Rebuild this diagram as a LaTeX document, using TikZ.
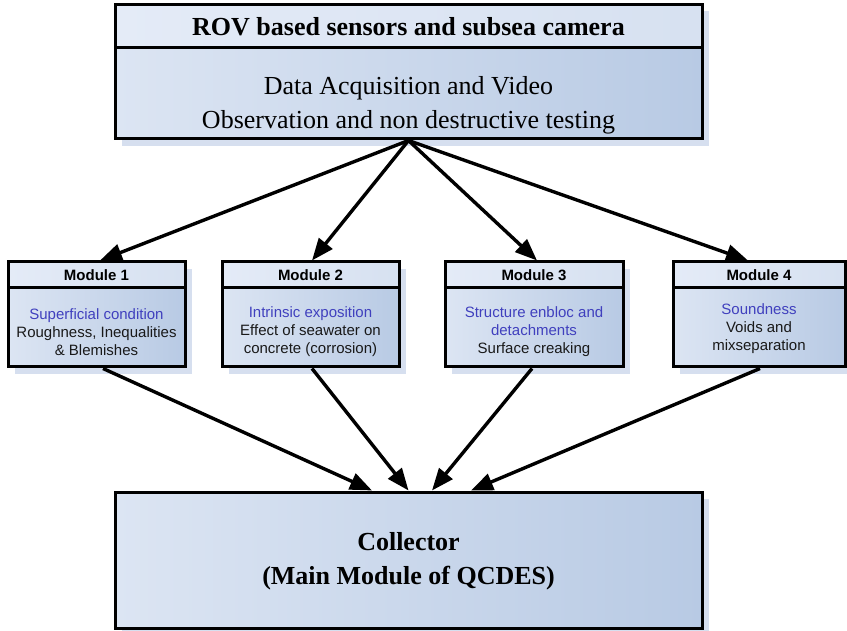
\documentclass[tikz,border=0pt]{standalone}
\usepackage{fontspec}
\setmainfont{Liberation Serif}
\newfontfamily\arialf{Liberation Sans}
\usetikzlibrary{arrows.meta,shadows}
\definecolor{boxlight}{RGB}{220,229,243}
\definecolor{boxdark}{RGB}{184,202,228}
\definecolor{hdrlight}{RGB}{228,235,247}
\definecolor{shadowc}{RGB}{214,223,239}
\definecolor{bluetxt}{RGB}{64,64,190}
\begin{document}
\begin{tikzpicture}[x=1pt,y=-1pt,
  shd/.style={drop shadow={shadow xshift=7pt,shadow yshift=-7pt,fill=shadowc,opacity=1}},
  box/.style={shd,draw=black,line width=3pt,rectangle,inner sep=0pt,left color=boxlight,right color=boxdark},
  hdr/.style={box,left color=hdrlight,right color=boxlight!85!boxdark},
  bigtxt/.style={font=\fontsize{26}{34}\selectfont,align=center,inner sep=0pt},
  bigbold/.style={font=\bfseries\fontsize{26}{34}\selectfont,align=center,inner sep=0pt},
  modtxt/.style={font=\arialf\fontsize{15}{18}\selectfont,align=center,inner sep=0pt,text=black!90},
  modhdr/.style={hdr,font=\arialf\bfseries\fontsize{15}{18}\selectfont,minimum height=26pt},
  modbody/.style={box,minimum height=79pt},
  arr/.style={line width=3.4pt,-{Triangle[length=22pt,width=17pt]}}]
\fill[white] (0,0) rectangle (847,631);
\useasboundingbox (0,0) rectangle (847,631);

% top box
\node[hdr,minimum width=587pt,minimum height=44pt,bigbold] (top) at (408.5,26.5) {ROV based sensors and subsea camera};
\node[box,minimum width=587pt,minimum height=91pt] (topb) at (408.5,93.5) {};
\node[bigtxt] (topt) at (408.5,105) {Data Acquisition and Video\\Observation and non destructive testing};

% modules
\node[modhdr,minimum width=177pt] (m1h) at (96.5,275) {Module 1};
\node[modbody,minimum width=177pt] (m1b) at (96.5,327.5) {};
\node[modtxt] (m1t) at (96.5,332) {\textcolor{bluetxt}{Superficial condition}\\Roughness, Inequalities\\\& Blemishes};

\node[modhdr,minimum width=177pt] (m2h) at (310.5,275) {Module 2};
\node[modbody,minimum width=177pt] (m2b) at (310.5,327.5) {};
\node[modtxt] (m2t) at (310.5,332) {\textcolor{bluetxt}{Intrinsic exposition}\\Effect of seawater on\\concrete (corrosion)};

\node[modhdr,minimum width=178pt] (m3h) at (534,275) {Module 3};
\node[modbody,minimum width=178pt] (m3b) at (534,327.5) {};
\node[modtxt] (m3t) at (534,331.5) {\textcolor{bluetxt}{Structure enbloc and}\\\textcolor{bluetxt}{detachments}\\Surface creaking};

\node[modhdr,minimum width=172pt] (m4h) at (759,275) {Module 4};
\node[modbody,minimum width=172pt] (m4b) at (759,327.5) {};
\node[modtxt] (m4t) at (759,328.5) {\textcolor{bluetxt}{Soundness}\\Voids and\\mixseparation};

% collector
\node[box,minimum width=587pt,minimum height=136pt] (col) at (408.5,560) {};
\node[bigbold] (colt) at (408.5,561) {Collector\\(Main Module of QCDES)};

% arrows from top
\draw[arr] (topb.south) -- ([xshift=3.5pt]m1h.north);
\draw[arr] (topb.south) -- ([xshift=1.5pt]m2h.north);
\draw[arr] (topb.south) -- ([xshift=3pt]m3h.north);
\draw[arr] (topb.south) -- ([xshift=-11pt]m4h.north);

% arrows to collector
\draw[arr] ([xshift=6.5pt]m1b.south) -- ([xshift=-36.5pt]col.north);
\draw[arr] ([xshift=1.5pt]m2b.south) -- (col.north);
\draw[arr] ([xshift=-2pt]m3b.south) -- ([xshift=23.5pt]col.north);
\draw[arr] ([xshift=1pt]m4b.south) -- ([xshift=62.5pt]col.north);
\end{tikzpicture}
\end{document}
